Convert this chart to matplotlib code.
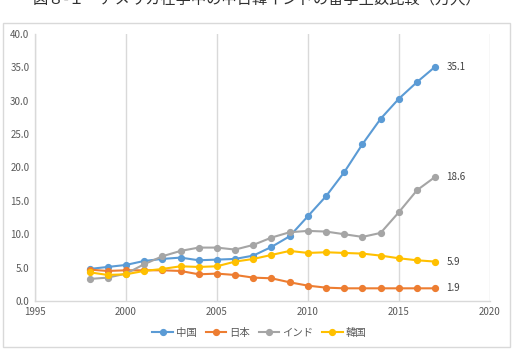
import matplotlib.pyplot as plt
from matplotlib.patches import Rectangle

plt.rcParams['font.family'] = ['Noto Sans CJK JP', 'DejaVu Sans']

title = "図８-１　アメリカ在学中の中日韓インドの留学生数比較（万人）"

years = list(range(1998, 2018))
china = [4.8, 5.1, 5.4, 6.0, 6.3, 6.5, 6.1, 6.2, 6.3, 6.8,
         8.1, 9.7, 12.7, 15.7, 19.3, 23.5, 27.3, 30.3, 32.8, 35.1]
japan = [4.7, 4.5, 4.6, 4.6, 4.6, 4.5, 4.0, 4.1, 3.9, 3.5,
         3.4, 2.8, 2.3, 2.0, 1.9, 1.9, 1.9, 1.9, 1.9, 1.9]
india = [3.3, 3.5, 4.1, 5.5, 6.7, 7.5, 8.0, 8.0, 7.7, 8.4,
         9.5, 10.3, 10.5, 10.4, 10.0, 9.6, 10.2, 13.3, 16.6, 18.6]
korea = [4.3, 3.9, 4.0, 4.5, 4.8, 5.2, 5.1, 5.2, 5.9, 6.3,
         6.9, 7.5, 7.2, 7.3, 7.2, 7.1, 6.8, 6.4, 6.1, 5.9]

series = [("中国", china, "#5B9BD5"),
          ("日本", japan, "#ED7D31"),
          ("インド", india, "#A5A5A5"),
          ("韓国", korea, "#FFC000")]

fig = plt.figure(figsize=(5.14, 3.5), dpi=100)
fig.patches.append(Rectangle((3 / 514, 3 / 350), 507 / 514, 324 / 350,
                             transform=fig.transFigure, fill=False,
                             edgecolor="#D9D9D9", linewidth=1))
ax = fig.add_axes([0.068, 0.14, 0.885, 0.763])

for name, vals, color in series:
    ax.plot(years, vals, color=color, linewidth=1.5, marker="o",
            markersize=4.2, label=name)
    ax.annotate(f"{vals[-1]:.1f}", (years[-1], vals[-1]), xytext=(8, 0),
                textcoords="offset points", va="center", fontsize=7,
                color="#404040")

ax.set_xlim(1995, 2020)
ax.set_ylim(0, 40)
ax.set_xticks(range(1995, 2021, 5))
ax.set_yticks(range(0, 41, 5))
ax.set_yticklabels([f"{v:.1f}" for v in range(0, 41, 5)])
ax.tick_params(labelsize=7, colors="#595959", length=0, pad=4)
ax.grid(axis="x", color="#D9D9D9", linewidth=1)
for side in ["top", "right"]:
    ax.spines[side].set_visible(False)
for side in ["left", "bottom"]:
    ax.spines[side].set_color("#D9D9D9")
    ax.spines[side].set_linewidth(1)

fig.legend(loc="center", bbox_to_anchor=(0.505, 0.049), ncol=4, frameon=False,
           fontsize=7.5, handlelength=2.0, handletextpad=0.3,
           columnspacing=0.8, labelcolor="#595959")

fig.text(0.5, 1.002, title, ha="center", va="center", fontsize=11,
         color="#303030")

fig.savefig("out.png", dpi=100)
